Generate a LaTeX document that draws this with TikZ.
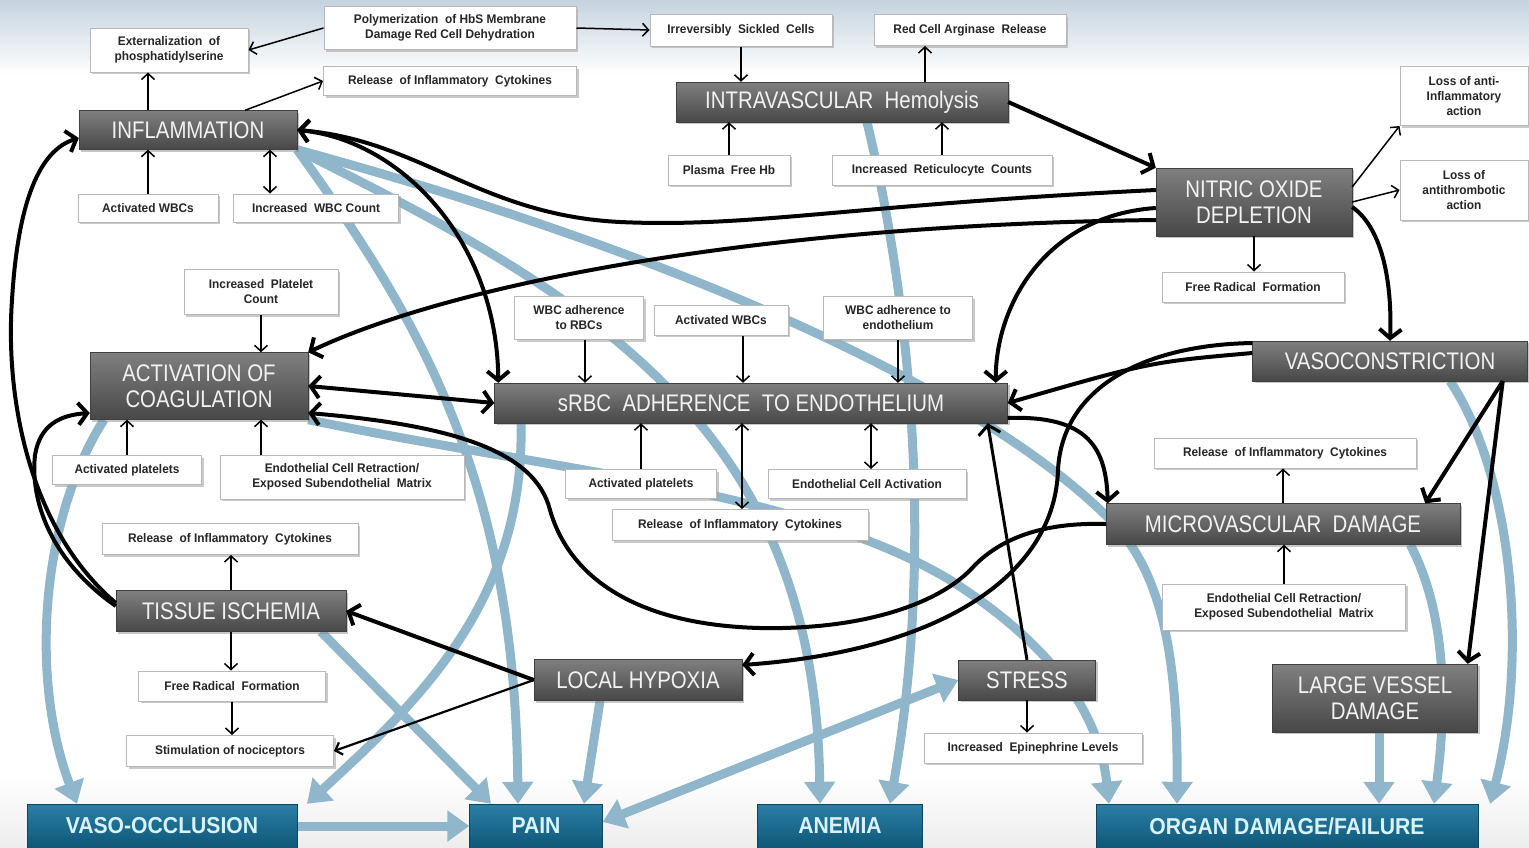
\documentclass[tikz,border=0pt]{standalone}
\usepackage{fontspec}
\setmainfont{Liberation Sans}
\newfontfamily\narrowsans[FakeStretch=0.85]{Liberation Sans}
\newfontfamily\notesans[FakeStretch=0.95]{Liberation Sans}
\newfontfamily\outsans[FakeStretch=0.92]{Liberation Sans}
\usetikzlibrary{arrows.meta,shadows}
\definecolor{lineblue}{HTML}{8FB6CA}
\definecolor{skytop}{HTML}{C5D3DF}
\definecolor{outtop}{HTML}{2B7FA5}
\definecolor{outbot}{HTML}{0E5778}
\definecolor{outedge}{HTML}{0A4660}
\definecolor{outtext}{HTML}{D9F2FA}
\pgfdeclarelayer{back}
\pgfsetlayers{back,main}

\begin{document}
\begin{tikzpicture}[x=1pt,y=-1pt,
  mbox/.style={draw=black!75, top color=black!50, bottom color=black!72, text=black!5,
    font=\narrowsans\fontsize{24}{26}\selectfont, align=center, inner sep=0pt,
    drop shadow={shadow xshift=2pt,shadow yshift=-2pt,opacity=0.45}},
  obox/.style={draw=outedge, top color=outtop, bottom color=outbot, text=outtext,
    font=\outsans\bfseries\fontsize{23}{25}\selectfont, inner sep=0pt},
  nbox/.style={draw=black!28, line width=1pt, fill=white, text=black!85,
    font=\notesans\bfseries\fontsize{12.5}{15}\selectfont, align=center, inner sep=0pt,
    drop shadow={shadow xshift=2pt,shadow yshift=-2pt,fill=black!35,opacity=0.6}},
  tarr/.style={line width=1.5pt, >={Straight Barb[length=6pt,width=13pt]}, ->},
  karr/.style={line width=4pt, >={Straight Barb[length=9pt,width=22pt]}, ->},
  barr/.style={line width=9pt, draw=lineblue, >={Triangle[length=22pt,width=30pt]}, ->}
]
\useasboundingbox (0,0) rectangle (1529,847);

\node[mbox, minimum width=218pt, minimum height=39pt] (infl) at (188,130) {INFLAMMATION};
\node[mbox, minimum width=332pt, minimum height=40pt] (hemo) at (842,102) {INTRAVASCULAR\ \ Hemolysis};
\node[mbox, minimum width=196pt, minimum height=68pt] (nod) at (1254,202) {NITRIC OXIDE\\DEPLETION};
\node[mbox, minimum width=218pt, minimum height=67pt] (coag) at (199,386) {ACTIVATION OF\\COAGULATION};
\node[mbox, minimum width=513pt, minimum height=40pt] (srbc) at (751,403) {sRBC\ \ ADHERENCE\ \ TO ENDOTHELIUM};
\node[mbox, minimum width=275pt, minimum height=40pt] (vaso) at (1390,361) {VASOCONSTRICTION};
\node[mbox, minimum width=354pt, minimum height=41pt] (micro) at (1283,524) {MICROVASCULAR\ \ DAMAGE};
\node[mbox, minimum width=230pt, minimum height=41pt] (isch) at (231,611) {TISSUE ISCHEMIA};
\node[mbox, minimum width=208pt, minimum height=41pt] (hypo) at (638,680) {LOCAL HYPOXIA};
\node[mbox, minimum width=137pt, minimum height=40pt] (stress) at (1027,680) {STRESS};
\node[mbox, minimum width=205pt, minimum height=68pt] (large) at (1375,698) {LARGE VESSEL\\DAMAGE};

\node[obox, minimum width=270pt, minimum height=44pt] (occl) at (162,826) {VASO-OCCLUSION};
\node[obox, minimum width=133pt, minimum height=44pt] (pain) at (536,826) {PAIN};
\node[obox, minimum width=165pt, minimum height=44pt] (anem) at (840,826) {ANEMIA};
\node[obox, minimum width=382pt, minimum height=44pt] (organ) at (1287,826) {ORGAN DAMAGE/FAILURE};

\node[nbox, minimum width=252pt, minimum height=43pt] (poly) at (450,28) {Polymerization\ \ of HbS Membrane\\Damage Red Cell Dehydration};
\node[nbox, minimum width=158pt, minimum height=44pt] (ext) at (169,50) {Externalization\ \ of\\phosphatidylserine};
\node[nbox, minimum width=253pt, minimum height=29pt] (cytoA) at (450,81) {Release\ \ of Inflammatory\ \ Cytokines};
\node[nbox, minimum width=182pt, minimum height=32pt] (isc) at (741,30) {Irreversibly\ \ Sickled\ \ Cells};
\node[nbox, minimum width=192pt, minimum height=31pt] (argin) at (970,30) {Red Cell Arginase\ \ Release};
\node[nbox, minimum width=122pt, minimum height=30pt] (plhb) at (729,170) {Plasma\ \ Free Hb};
\node[nbox, minimum width=220pt, minimum height=30pt] (retic) at (942,170) {Increased\ \ Reticulocyte\ \ Counts};
\node[nbox, minimum width=128pt, minimum height=59pt] (lossA) at (1464,96) {Loss of anti-\\Inflammatory\\action};
\node[nbox, minimum width=128pt, minimum height=60pt] (lossB) at (1464,190) {Loss of\\antithrombotic\\action};
\node[nbox, minimum width=140pt, minimum height=28pt] (wbcA) at (148,208) {Activated WBCs};
\node[nbox, minimum width=165pt, minimum height=28pt] (wbcC) at (316,208) {Increased\ \ WBC Count};
\node[nbox, minimum width=182pt, minimum height=30pt] (radA) at (1253,287) {Free Radical\ \ Formation};
\node[nbox, minimum width=154pt, minimum height=45pt] (plat) at (261,292) {Increased\ \ Platelet\\Count};
\node[nbox, minimum width=129pt, minimum height=43pt] (adhR) at (579,318) {WBC adherence\\to RBCs};
\node[nbox, minimum width=134pt, minimum height=30pt] (wbcB) at (721,320) {Activated WBCs};
\node[nbox, minimum width=149pt, minimum height=43pt] (adhE) at (898,318) {WBC adherence to\\endothelium};
\node[nbox, minimum width=149pt, minimum height=29pt] (platA) at (127,470) {Activated platelets};
\node[nbox, minimum width=244pt, minimum height=44pt] (retrA) at (342,477) {Endothelial Cell Retraction/\\Exposed Subendothelial\ \ Matrix};
\node[nbox, minimum width=151pt, minimum height=29pt] (platB) at (641,484) {Activated platelets};
\node[nbox, minimum width=198pt, minimum height=29pt] (endo) at (867,484) {Endothelial Cell Activation};
\node[nbox, minimum width=256pt, minimum height=31pt] (cytoB) at (740,525) {Release\ \ of Inflammatory\ \ Cytokines};
\node[nbox, minimum width=262pt, minimum height=30pt] (cytoC) at (1285,453) {Release\ \ of Inflammatory\ \ Cytokines};
\node[nbox, minimum width=243pt, minimum height=46pt] (retrB) at (1284,607) {Endothelial Cell Retraction/\\Exposed Subendothelial\ \ Matrix};
\node[nbox, minimum width=256pt, minimum height=31pt] (cytoD) at (230,539) {Release\ \ of Inflammatory\ \ Cytokines};
\node[nbox, minimum width=187pt, minimum height=30pt] (radB) at (232,686) {Free Radical\ \ Formation};
\node[nbox, minimum width=207pt, minimum height=31pt] (noci) at (230,751) {Stimulation of nociceptors};
\node[nbox, minimum width=218pt, minimum height=30pt] (epi) at (1033,748) {Increased\ \ Epinephrine Levels};

\begin{pgfonlayer}{back}
\fill[top color=skytop, bottom color=white] (0,0) rectangle (1529,75);
\fill[top color=white, bottom color=black!7] (0,775) rectangle (1529,847);
\path[draw,barr] (infl.south east) .. controls (420,320) and (515,480) .. ([xshift=-18pt]pain.north);
\path[draw,barr] (infl.south east) .. controls (600,300) and (815,430) .. ([xshift=-20pt]anem.north);
\path[draw,barr] (infl.south east) .. controls (700,260) and (1000,400) .. (1120,530) .. controls (1160,580) and (1178,650) .. ([xshift=-110pt]organ.north);
\path[draw,barr] ([xshift=25pt]hemo.south) .. controls (910,300) and (935,550) .. ([xshift=50pt]anem.north);
\path[draw,barr] ([xshift=-230pt]srbc.south) .. controls (525,600) and (420,700) .. ([xshift=145pt]occl.north);
\path[draw,barr] ([xshift=-95pt]coag.south) .. controls (40,520) and (30,680) .. ([xshift=-85pt]occl.north);
\path[draw,barr] (coag.south east) .. controls (550,470) and (800,490) .. (950,580) .. controls (1060,650) and (1100,720) .. ([xshift=-178pt]organ.north);
\path[draw,barr] ([xshift=90pt]isch.south) -- ([xshift=-45pt]pain.north);
\path[draw,barr] ([xshift=-38pt]hypo.south) -- ([xshift=48pt]pain.north);
\path[draw,barr] (occl.east) -- (pain.west);
\path[draw,barr,<->] ([yshift=4pt]pain.east) -- (stress.west);
\path[draw,barr] ([xshift=-50pt]micro.south east) .. controls (1450,620) and (1445,720) .. ([xshift=147pt]organ.north);
\path[draw,barr] ([xshift=60pt]vaso.south) .. controls (1510,470) and (1530,650) .. ([xshift=12pt]organ.north east);
\path[draw,barr] ([xshift=4pt]large.south) -- ([xshift=4pt]large.south |- organ.north);
\end{pgfonlayer}

\path[draw,tarr] (poly.west) -- (ext.east);
\path[draw,tarr] (poly.east) -- (isc.west);
\path[draw,tarr] (infl.north -| wbcA.north) -- (ext.south -| wbcA.north);
\path[draw,tarr] ([xshift=57pt]infl.north) -- (cytoA.west);
\path[draw,tarr] (wbcA.north) -- (wbcA.north |- infl.south);
\path[draw,tarr,<->] ([xshift=-46pt]wbcC.north) -- ([xshift=-46pt]wbcC.north |- infl.south);
\path[draw,tarr] (isc.south) -- (isc.south |- hemo.north);
\path[draw,tarr] ([xshift=-45pt]argin.south |- hemo.north) -- ([xshift=-45pt]argin.south);
\path[draw,tarr] (plhb.north) -- (plhb.north |- hemo.south);
\path[draw,tarr] (retic.north) -- (retic.north |- hemo.south);
\path[draw,tarr] ([yshift=15pt]nod.east) -- (lossA.south west);
\path[draw,tarr] (nod.east) -- (lossB.west);
\path[draw,tarr] (nod.south) -- (nod.south |- radA.north);
\path[draw,tarr] (plat.south) -- (plat.south |- coag.north);
\path[draw,tarr] (platA.north) -- (platA.north |- coag.south);
\path[draw,tarr] (retrA.north -| plat.south) -- (coag.south -| plat.south);
\path[draw,tarr] ([xshift=6pt]adhR.south) -- ([xshift=6pt]adhR.south |- srbc.north);
\path[draw,tarr] ([xshift=22pt]wbcB.south) -- ([xshift=22pt]wbcB.south |- srbc.north);
\path[draw,tarr] (adhE.south) -- (adhE.south |- srbc.north);
\path[draw,tarr] (platB.north) -- (platB.north |- srbc.south);
\path[draw,tarr,<->] ([xshift=2pt]cytoB.north) -- ([xshift=2pt]cytoB.north |- srbc.south);
\path[draw,tarr,<->] ([xshift=4pt]endo.north) -- ([xshift=4pt]endo.north |- srbc.south);
\path[draw,tarr] (micro.north) -- (micro.north |- cytoC.south);
\path[draw,tarr] (retrB.north) -- (retrB.north |- micro.south);
\path[draw,tarr] (isch.north) -- (isch.north |- cytoD.south);
\path[draw,tarr] (isch.south) -- (isch.south |- radB.north);
\path[draw,tarr] (radB.south) -- (radB.south |- noci.north);
\path[draw,tarr] (stress.south) -- (stress.south |- epi.north);
\path[draw,tarr,line width=2.2pt] (hypo.west) -- (noci.east);

\path[draw,karr] (hemo.east) -- (nod.north west);
\path[draw,karr] ([yshift=12pt]nod.west) .. controls (850,205) and (750,228) .. (620,222) .. controls (480,215) and (420,140) .. (infl.east);
\path[draw,karr] ([yshift=-18pt]nod.west) .. controls (750,225) and (450,285) .. (coag.north east);
\path[draw,karr] ([yshift=-6pt]nod.west) .. controls (1050,215) and (996,300) .. ([xshift=-12pt]srbc.north east);
\path[draw,karr,<->] (infl.east) .. controls (400,140) and (497,240) .. ([xshift=4pt]srbc.north west);
\path[draw,karr,<->] (coag.east) -- (srbc.west);
\path[draw,karr] (micro.west) .. controls (1040,522) and (1000,540) .. (975,565) .. controls (940,605) and (860,630) .. (760,628) .. controls (640,625) and (570,580) .. (550,510) .. controls (535,450) and (450,425) .. ([yshift=-27pt]coag.east);
\path[draw,karr] ([yshift=8pt]vaso.west) .. controls (1150,362) .. (srbc.east);
\path[draw,karr] ([yshift=18pt]vaso.west) .. controls (1140,345) and (1062,390) .. (1058,470) .. controls (1055,570) and (950,650) .. ([yshift=15pt]hypo.east);
\path[draw,karr] ([yshift=-15pt]srbc.east) .. controls (1090,415) and (1106,450) .. ([xshift=2pt]micro.north west);
\path[draw,karr] ([yshift=-5pt]nod.east) .. controls (1385,230) and (1392,290) .. (vaso.north);
\path[draw,karr] ([xshift=-25pt]vaso.south east) -- ([xshift=-35pt]micro.north east);
\path[draw,karr] ([xshift=-25pt]vaso.south east) -- ([xshift=-10pt]large.north east);
\path[draw,karr] ([yshift=8pt]isch.west) .. controls (30,530) and (5,400) .. (12,300) .. controls (18,200) and (40,150) .. ([yshift=-8pt]infl.west);
\path[draw,karr] ([yshift=5pt]isch.west) .. controls (50,560) and (30,500) .. (35,455) .. controls (40,425) and (60,415) .. ([yshift=-27pt]coag.west);
\path[draw,karr] (hypo.west) -- (isch.east);
\path[draw,karr,line width=3pt] (stress.north) -- ([xshift=-20pt]srbc.south east);
\end{tikzpicture}
\end{document}
